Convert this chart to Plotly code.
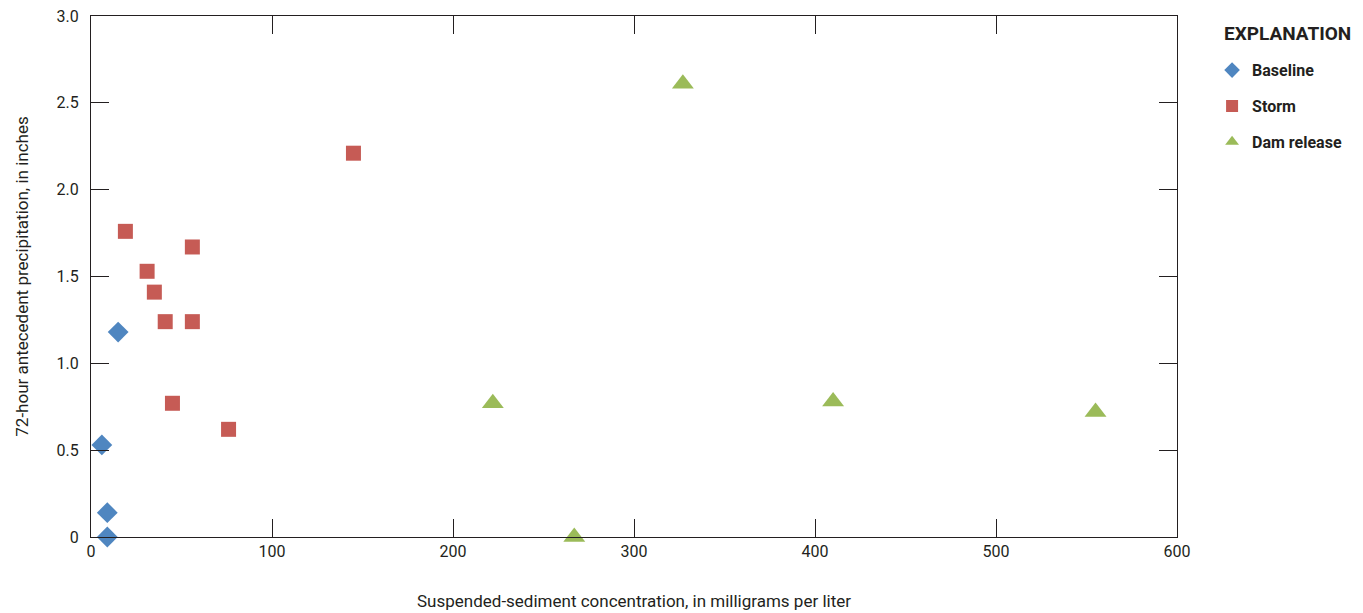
import plotly.graph_objects as go

baseline_x = [15, 6, 9, 9]
baseline_y = [1.18, 0.53, 0.14, 0.0]
storm_x = [19, 31, 35, 41, 56, 56, 45, 76, 145]
storm_y = [1.76, 1.53, 1.41, 1.24, 1.24, 1.67, 0.77, 0.62, 2.21]
dam_x = [327, 222, 267, 410, 555]
dam_y = [2.61, 0.77, 0.0, 0.78, 0.72]

x_ticks = [0, 100, 200, 300, 400, 500, 600]
y_ticks = [0, 0.5, 1.0, 1.5, 2.0, 2.5, 3.0]
y_labels = ["0", "0.5", "1.0", "1.5", "2.0", "2.5", "3.0"]

FONT = "Roboto, Arial, sans-serif"
TXT = "#231f20"

fig = go.Figure()
fig.add_trace(go.Scatter(x=baseline_x, y=baseline_y, mode="markers", name="Baseline", legendgroup="a",
                         marker=dict(symbol="diamond", size=16, color="#4f86c0"), cliponaxis=False))
fig.add_trace(go.Scatter(x=storm_x, y=storm_y, mode="markers", name="Storm", legendgroup="b",
                         marker=dict(symbol="square", size=15, color="#c65b55"), cliponaxis=False))
fig.add_trace(go.Scatter(x=dam_x, y=dam_y, mode="markers", name="Dam release", legendgroup="c",
                         marker=dict(symbol="triangle-up", size=19, color="#9bbb59"), cliponaxis=False))

axis_common = dict(showgrid=False, zeroline=False, showline=True, linecolor="#231f20", linewidth=1.3,
                   mirror="allticks", ticks="inside", ticklen=18, tickwidth=1.3, tickcolor="#231f20",
                   automargin=False, ticklabeloverflow="allow",
                   tickfont=dict(family=FONT, size=16, color=TXT))

fig.update_xaxes(range=[0, 600], tickvals=x_ticks, **axis_common,
                 title=dict(text="Suspended-sediment concentration, in milligrams per liter",
                            font=dict(family=FONT, size=17, color=TXT), standoff=34))
fig.update_yaxes(range=[0, 3.0], tickvals=y_ticks, ticktext=y_labels, **axis_common,
                 ticklabelstandoff=8,
                 title=dict(text="72-hour antecedent precipitation, in inches",
                            font=dict(family=FONT, size=17, color=TXT), standoff=23))

fig.add_annotation(text="<b>EXPLANATION</b>", xref="paper", yref="paper",
                   x=1.0414, y=0.967, xanchor="left", yanchor="middle", showarrow=False,
                   font=dict(family=FONT, size=19, color=TXT))

# the page body adds an 8px offset; margins compensate so the plot lands at the reference position
fig.update_layout(
    width=1363, height=613,
    margin=dict(l=83, r=194, t=8, b=84),
    plot_bgcolor="white", paper_bgcolor="white",
    font=dict(family=FONT, color=TXT),
    legend=dict(x=1.0323, y=0.9286, xanchor="left", yanchor="top",
                font=dict(family=FONT, size=16, color=TXT, weight="bold"),
                itemsizing="constant", tracegroupgap=12),
)

fig.write_html("out.html")
